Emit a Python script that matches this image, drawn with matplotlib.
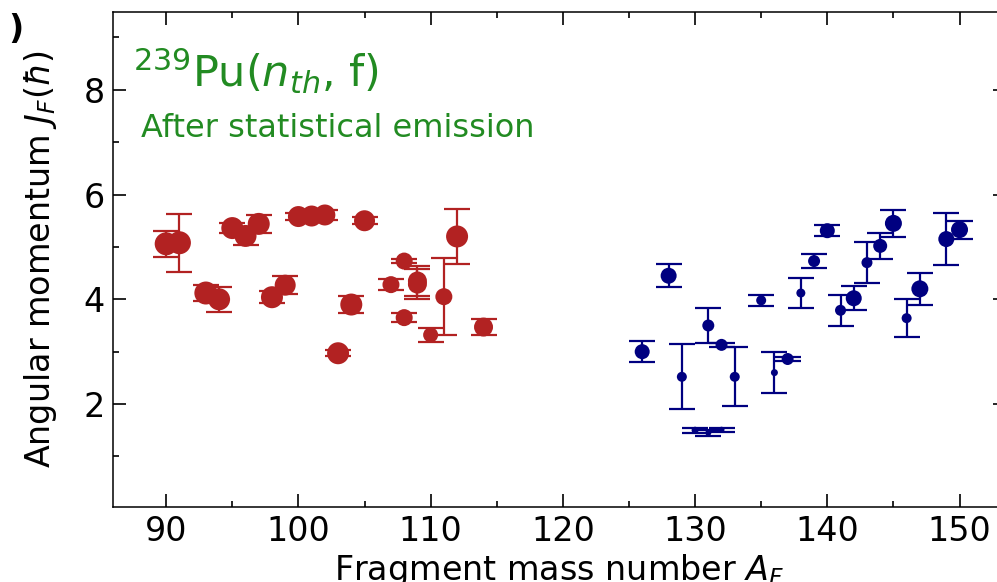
import numpy as np
import matplotlib
matplotlib.use("Agg")
import matplotlib.pyplot as plt
from matplotlib.ticker import MultipleLocator

# light fragments (red)
red_A = [90, 91, 93, 94, 95, 96, 97, 98, 99, 100, 101, 102, 103, 104, 105,
         107, 108, 108, 109, 109, 110, 111, 112, 114]
red_J = [5.06, 5.08, 4.12, 4.00, 5.36, 5.21, 5.44, 4.04, 4.27, 5.58, 5.59, 5.61,
         2.97, 3.90, 5.50, 4.28, 4.73, 3.65, 4.35, 4.29, 3.32, 4.05, 5.20, 3.47]
red_err = [0.25, 0.55, 0.15, 0.24, 0.10, 0.18, 0.17, 0.11, 0.17, 0.06, 0.06, 0.09,
           0.06, 0.16, 0.07, 0.10, 0.04, 0.08, 0.29, 0.29, 0.13, 0.74, 0.52, 0.16]
red_d = [23, 23, 23, 22, 22, 22, 22, 22, 21, 21, 21, 21, 22, 22, 21,
         17, 17, 17, 19, 19, 15, 17, 22, 19]

# heavy fragments (blue)
blue_A = [126, 128, 129, 130, 131, 131, 132, 132, 133, 135, 136, 137,
          138, 139, 140, 141, 142, 143, 144, 145, 146, 147, 149, 150]
blue_J = [3.00, 4.45, 2.52, 1.50, 3.50, 1.45, 3.13, 1.51, 2.52, 3.98, 2.60, 2.86,
          4.12, 4.73, 5.31, 3.79, 4.02, 4.70, 5.02, 5.45, 3.64, 4.20, 5.15, 5.33]
blue_err = [0.20, 0.22, 0.62, 0.05, 0.33, 0.06, 0.04, 0.04, 0.56, 0.10, 0.39, 0.04,
            0.28, 0.14, 0.10, 0.30, 0.23, 0.39, 0.25, 0.26, 0.36, 0.31, 0.50, 0.17]
blue_d = [15, 16, 10, 7, 12, 6, 12, 6, 10, 10, 7, 12,
          9, 12, 15, 11, 16, 11, 14, 17, 10, 17, 16, 17]

red = "#b22222"
blue = "#000080"
green = "#228b22"

fig = plt.figure(figsize=(9.97, 5.82), dpi=100)
ax = fig.add_axes([113.3/997, 75.3/582, (1005.8-113.3)/997, 494.4/582])

for A, J, e, d, c in [(red_A, red_J, red_err, red_d, red),
                      (blue_A, blue_J, blue_err, blue_d, blue)]:
    ax.errorbar(A, J, yerr=e, fmt='none', ecolor=c, elinewidth=1.6,
                capsize=9.5, capthick=1.6, zorder=2)
    ax.scatter(A, J, s=(np.array(d)*0.72)**2, color=c, linewidths=0, zorder=3)

ax.set_xlim(86, 153.5)
ax.set_ylim(0.04, 9.48)
ax.xaxis.set_major_locator(MultipleLocator(10))
ax.xaxis.set_minor_locator(MultipleLocator(5))
ax.yaxis.set_major_locator(MultipleLocator(2))
ax.yaxis.set_minor_locator(MultipleLocator(1))
ax.tick_params(which='both', direction='in', top=True, right=True,
               labelsize=24, pad=6, width=1.2)
ax.tick_params(which='major', length=9.5)
ax.tick_params(which='minor', length=4.5)
for s in ax.spines.values():
    s.set_linewidth(1.1)

ax.set_xlabel(r"Fragment mass number $A_F$", fontsize=24, labelpad=3)
ax.set_ylabel(r"Angular momentum $J_F(\hbar)$", fontsize=24, labelpad=18)

ax.text(0.022, 0.848, r"$^{239}$Pu($n_{th}$, f)", color=green,
        fontsize=31, transform=ax.transAxes, ha='left', va='baseline')
ax.text(0.031, 0.747, "After statistical emission", color=green,
        fontsize=23, transform=ax.transAxes, ha='left', va='baseline')

fig.text(0.024, 0.95, ")", fontsize=24, fontweight='bold', ha='right', va='center')

fig.savefig("out.png", dpi=100)
